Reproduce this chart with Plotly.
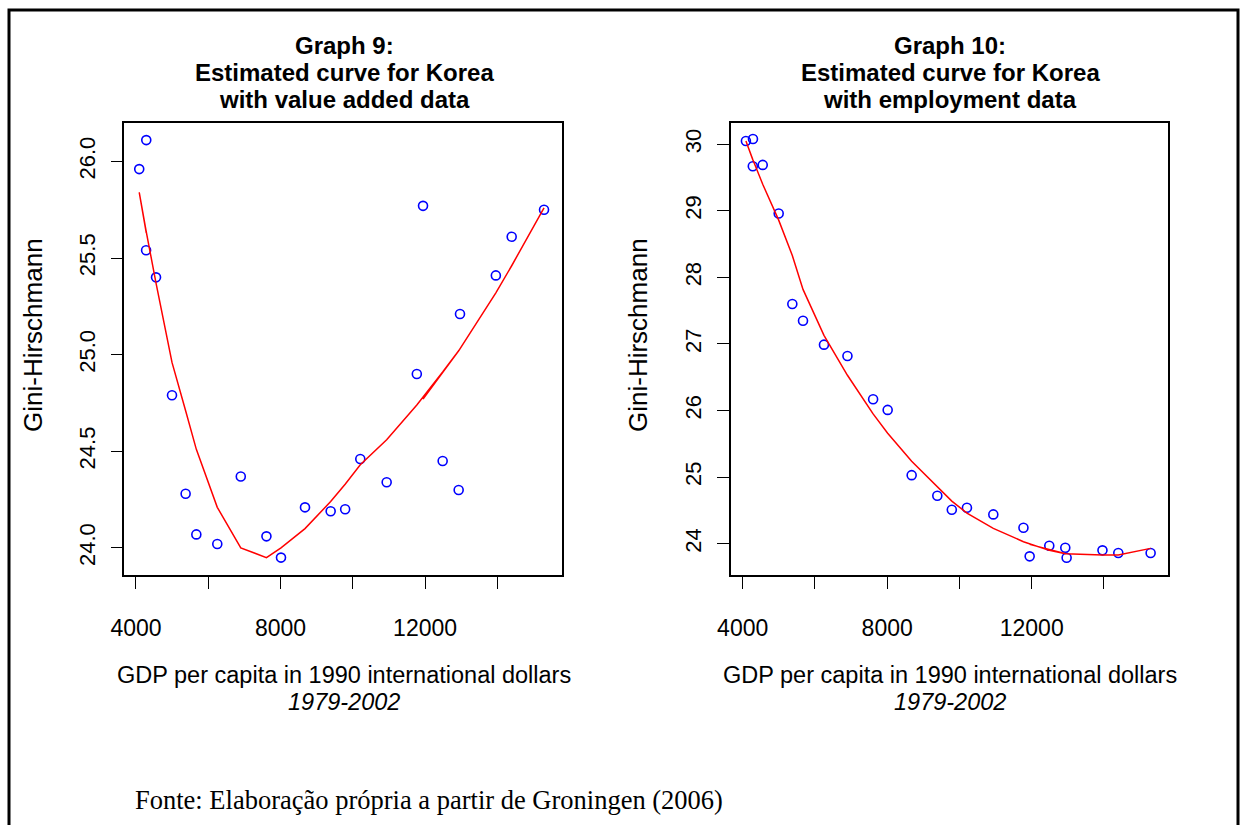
import plotly.graph_objects as go

# ---------------- data ----------------
years = list(range(1979, 2003))
gdp = [4285, 4090, 4280, 4555, 4997, 5374, 5670, 6250, 6900, 7610, 8013, 8677,
       9387, 9788, 10207, 10937, 11771, 12486, 12966, 11943, 12929, 13958, 14396, 15291]

gini_va = [26.11, 25.96, 25.54, 25.40, 24.79, 24.28, 24.07, 24.02, 24.37, 24.06, 23.95, 24.21,
           24.19, 24.20, 24.46, 24.34, 24.90, 24.45, 25.21, 25.77, 24.30, 25.41, 25.61, 25.75]
fit_va = [25.63, 25.84, 25.64, 25.37, 24.96, 24.71, 24.51, 24.21, 24.00, 23.95, 24.00, 24.10,
          24.24, 24.33, 24.43, 24.56, 24.74, 24.91, 25.03, 24.77, 25.02, 25.32, 25.46, 25.76]

gini_emp = [30.08, 30.05, 29.67, 29.69, 28.96, 27.60, 27.35, 26.99, 26.82, 26.17, 26.01, 25.03,
            24.72, 24.51, 24.54, 24.44, 24.24, 23.97, 23.79, 23.81, 23.94, 23.90, 23.86, 23.86]
fit_emp = [29.76, 30.05, 29.77, 29.40, 28.86, 28.33, 27.82, 27.13, 26.53, 25.95, 25.66, 25.24,
           24.85, 24.64, 24.46, 24.23, 24.03, 23.90, 23.845, 23.99, 23.85, 23.83, 23.83, 23.93]

x_tickvals = [4000, 6000, 8000, 10000, 12000, 14000]
x_ticktext = ["4000", "", "8000", "", "12000", ""]
y1_tickvals = [24.0, 24.5, 25.0, 25.5, 26.0]
y1_ticktext = ["24.0", "24.5", "25.0", "25.5", "26.0"]
y2_tickvals = [24, 25, 26, 27, 28, 29, 30]
y2_ticktext = ["24", "25", "26", "27", "28", "29", "30"]

titles_left = ["Graph 9:", "Estimated curve for Korea", "with value added data"]
titles_right = ["Graph 10:", "Estimated curve for Korea", "with employment data"]
xlabel = "GDP per capita in 1990 international dollars"
xsub = "1979-2002"
ylabel = "Gini-Hirschmann"
source = "Fonte: Elaboração própria a partir de Groningen (2006)"

# ---------------- figure ----------------
W, H = 1240, 825
SANS = "Liberation Sans, Arial, sans-serif"
SERIF = "Liberation Serif, Times New Roman, serif"

def px(x):
    return x / W

def py(y):
    return 1 - y / H

fig = go.Figure()

for xa, ya, yv, fv in (("x", "y", gini_va, fit_va), ("x2", "y2", gini_emp, fit_emp)):
    fig.add_trace(go.Scatter(x=gdp, y=yv, xaxis=xa, yaxis=ya, mode="markers",
                             marker=dict(symbol="circle-open", size=9, color="#0000FF",
                                         line=dict(width=1.6, color="#0000FF")),
                             showlegend=False, hoverinfo="skip"))
    fig.add_trace(go.Scatter(x=gdp, y=fv, xaxis=xa, yaxis=ya, mode="lines",
                             line=dict(color="#FF0000", width=1.5),
                             showlegend=False, hoverinfo="skip"))

dom_y = [py(575), py(123.3)]
axis_common = dict(showgrid=False, zeroline=False, showline=True, mirror=True,
                   linecolor="black", linewidth=1.5, ticks="outside", ticklen=12,
                   tickwidth=1.3, tickcolor="black", automargin=False,
                   tickfont=dict(family=SANS, size=23, color="black"))
ytickfont = dict(family=SANS, size=22, color="black")

xr = [3677, 15780]
fig.update_layout(
    width=W, height=H, margin=dict(l=0, r=0, t=0, b=0, autoexpand=False),
    paper_bgcolor="white", plot_bgcolor="white",
    xaxis=dict(domain=[px(124.3), px(561.7)], range=xr, anchor="y",
               tickmode="array", tickvals=x_tickvals, ticktext=x_ticktext,
               ticklabelstandoff=20, **axis_common),
    xaxis2=dict(domain=[px(731), px(1168.3)], range=xr, anchor="y2",
                tickmode="array", tickvals=x_tickvals, ticktext=x_ticktext,
                ticklabelstandoff=20, **axis_common),
    yaxis=dict(domain=dom_y, range=[23.86, 26.197], anchor="x",
               tickmode="array", tickvals=y1_tickvals, ticktext=y1_ticktext,
               tickangle=-90, ticklabelstandoff=7,
               **{**axis_common, "tickfont": ytickfont}),
    yaxis2=dict(domain=dom_y, range=[23.53, 30.315], anchor="x2",
                tickmode="array", tickvals=y2_tickvals, ticktext=y2_ticktext,
                tickangle=-90, ticklabelstandoff=7,
                **{**axis_common, "tickfont": ytickfont}),
)

ann = []
for cx, lines in ((345, titles_left), (950, titles_right)):
    for i, t in enumerate(lines):
        ann.append(dict(x=px(cx), y=py(45 + 27 * i), xref="paper", yref="paper",
                        text=f"<b>{t}</b>", showarrow=False, xanchor="center", yanchor="middle",
                        font=dict(family=SANS, size=24, color="black")))
for cx in (343.5, 950):
    ann.append(dict(x=px(cx), y=py(675), xref="paper", yref="paper", text=xlabel,
                    showarrow=False, xanchor="center", yanchor="middle",
                    font=dict(family=SANS, size=23.5, color="black")))
    ann.append(dict(x=px(cx), y=py(701.5), xref="paper", yref="paper", text=f"<i>{xsub}</i>",
                    showarrow=False, xanchor="center", yanchor="middle",
                    font=dict(family=SANS, size=23.5, color="black")))
for cx in (33, 638):
    ann.append(dict(x=px(cx), y=py(335), xref="paper", yref="paper", text=ylabel,
                    showarrow=False, xanchor="center", yanchor="middle", textangle=-90,
                    font=dict(family=SANS, size=26, color="black")))
ann.append(dict(x=px(133), y=py(800), xref="paper", yref="paper", text=source,
                showarrow=False, xanchor="left", yanchor="middle",
                font=dict(family=SERIF, size=26.5, color="black")))
fig.update_layout(annotations=ann)

# outer frame (bottom edge lies below the visible page)
fig.add_shape(type="rect", xref="paper", yref="paper",
              x0=px(9), x1=px(1238), y0=-0.1, y1=py(10),
              line=dict(color="black", width=3), fillcolor="rgba(0,0,0,0)", layer="above")

fig.write_html("out.html")
